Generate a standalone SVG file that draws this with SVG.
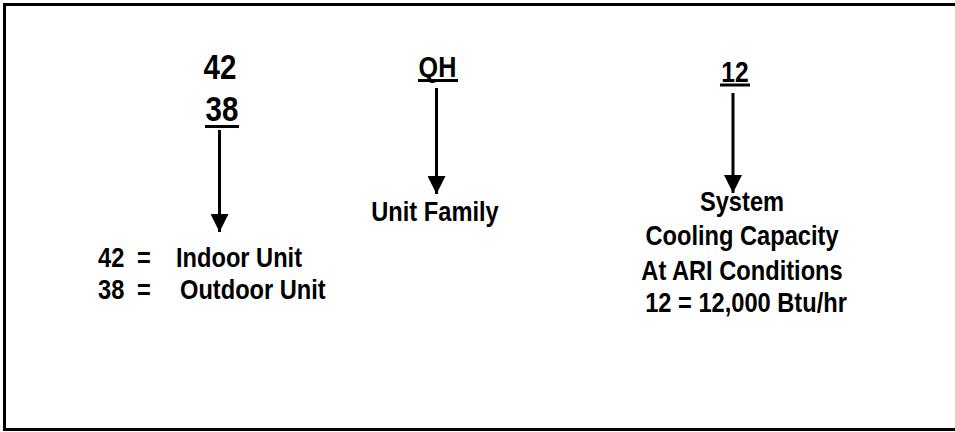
<svg xmlns="http://www.w3.org/2000/svg" width="955" height="432" viewBox="0 0 955 432">
<defs>
<style>
text{font-family:"Liberation Sans",Arial,sans-serif;font-weight:bold;fill:#000}
.big{font-size:36px}
.mid{font-size:30px}
.lbl{font-size:28.5px}
.ul{stroke:#000;stroke-width:3}
.arr{stroke:#000;stroke-width:3;fill:none}
</style>
<marker id="ah" markerUnits="userSpaceOnUse" markerWidth="18" markerHeight="18" viewBox="0 0 16 16" refX="16" refY="8" orient="auto">
<path d="M0,0 L16,8 L0,16 Z" fill="#000"/>
</marker>
</defs>
<rect x="0" y="0" width="955" height="432" fill="#fff"/>
<rect x="4.5" y="4.5" width="960" height="425" fill="none" stroke="#000" stroke-width="3"/>
<g id="node-4238">
<text class="big" transform="translate(220,79) scale(0.82,1)" text-anchor="middle">42</text>
<text class="big" transform="translate(222,121) scale(0.82,1)" text-anchor="middle">38</text>
<line class="ul" x1="205" y1="126.5" x2="239" y2="126.5"/>
</g>
<g id="node-qh">
<text class="mid" transform="translate(437.5,77) scale(0.84,1)" text-anchor="middle">QH</text>
<line class="ul" x1="418" y1="80.5" x2="458" y2="80.5"/>
</g>
<g id="node-12">
<text class="mid" transform="translate(735,81.5) scale(0.82,1)" text-anchor="middle">12</text>
<line class="ul" x1="720" y1="85" x2="750" y2="85"/>
</g>
<g id="node-units">
<text class="lbl" transform="translate(98,267) scale(0.83,1)">42</text>
<text class="lbl" transform="translate(137,267) scale(0.83,1)">=</text>
<text class="lbl" transform="translate(176,267) scale(0.83,1)">Indoor Unit</text>
<text class="lbl" transform="translate(98,299) scale(0.83,1)">38</text>
<text class="lbl" transform="translate(137,299) scale(0.83,1)">=</text>
<text class="lbl" transform="translate(180,299) scale(0.83,1)">Outdoor Unit</text>
</g>
<g id="node-family">
<text class="lbl" transform="translate(435,221) scale(0.83,1)" text-anchor="middle">Unit Family</text>
</g>
<g id="node-capacity">
<text class="lbl" transform="translate(742,211) scale(0.83,1)" text-anchor="middle">System</text>
<text class="lbl" transform="translate(742,245) scale(0.83,1)" text-anchor="middle">Cooling Capacity</text>
<text class="lbl" transform="translate(742,279.5) scale(0.83,1)" text-anchor="middle">At ARI Conditions</text>
<text class="lbl" transform="translate(746,311.5) scale(0.83,1)" text-anchor="middle">12 = 12,000 Btu/hr</text>
</g>
<g id="connectors">
<line class="arr" x1="219.5" y1="130" x2="219.5" y2="232" marker-end="url(#ah)"/>
<line class="arr" x1="436.5" y1="88" x2="436.5" y2="194" marker-end="url(#ah)"/>
<line class="arr" x1="733" y1="93" x2="733" y2="193" marker-end="url(#ah)"/>
</g>
</svg>
